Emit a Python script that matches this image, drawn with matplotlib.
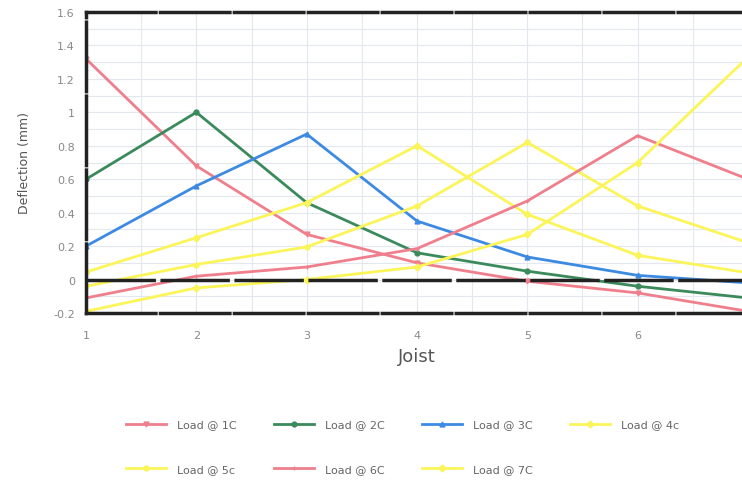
import matplotlib
matplotlib.use('Agg')
import matplotlib.pyplot as plt
from matplotlib.ticker import MultipleLocator, FuncFormatter

joist = [1, 2, 3, 4, 5, 6, 7]
joist_ticks = [1, 2, 3, 4, 5, 6]

load_1c = [1.32, 0.68, 0.27, 0.10, -0.01, -0.08, -0.19]
load_2c = [0.60, 1.00, 0.46, 0.16, 0.05, -0.04, -0.11]
load_3c = [0.20, 0.56, 0.87, 0.35, 0.135, 0.025, -0.02]
load_4c = [0.045, 0.25, 0.46, 0.80, 0.39, 0.145, 0.04]
load_5c = [-0.04, 0.09, 0.195, 0.44, 0.82, 0.44, 0.22]
load_6c = [-0.11, 0.02, 0.075, 0.185, 0.47, 0.86, 0.60]
load_7c = [-0.19, -0.05, 0.0, 0.075, 0.27, 0.70, 1.33]

labels = ['Load @ 1C', 'Load @ 2C', 'Load @ 3C', 'Load @ 4c',
          'Load @ 5c', 'Load @ 6C', 'Load @ 7C']

pink = '#ef7f8c'
green = '#3b8a5c'
blue = '#3d8ae2'
yellow = '#fbf55a'

series = [load_1c, load_2c, load_3c, load_4c, load_5c, load_6c, load_7c]
colors = [pink, green, blue, yellow, yellow, pink, yellow]
markers = ['v', 'o', '^', 'D', 'o', '+', 'D']

fig = plt.figure(figsize=(7.42, 4.85), dpi=100)
ax = fig.add_axes([86 / 742, (485 - 314) / 485, (748 - 86) / 742, 301 / 485])

handles = []
for y, c, m, lab in zip(series, colors, markers, labels):
    h, = ax.plot(joist, y, color=c, lw=2, marker=m, markersize=3.5, label=lab)
    handles.append(h)

ax.set_xlim(1, 7)
ax.set_ylim(-0.2, 1.6)
ax.set_xticks(joist_ticks)
ax.xaxis.set_minor_locator(MultipleLocator(0.5))
ax.yaxis.set_major_locator(MultipleLocator(0.2))
ax.yaxis.set_minor_locator(MultipleLocator(0.1))


def fmt(v, p):
    if abs(v) < 1e-9:
        return '0'
    return ('%.1f' % v).rstrip('0').rstrip('.')


ax.yaxis.set_major_formatter(FuncFormatter(fmt))
ax.grid(which='both', color='#e3e8f0', lw=0.8)
ax.set_axisbelow(True)
ax.tick_params(which='both', length=0, colors='#888888', labelsize=8)
ax.tick_params(axis='x', pad=12)
ax.tick_params(axis='y', pad=8)

for s in ['left', 'top', 'bottom']:
    ax.spines[s].set_linestyle((0, (20, 1.3)))
    ax.spines[s].set_linewidth(2.5)
    ax.spines[s].set_color('#222222')
    ax.spines[s].set_zorder(6)
ax.spines['right'].set_visible(False)
ax.axhline(0, color='#222222', lw=2.5, ls=(0, (20, 1.3)), zorder=5)

ax.set_xlabel('Joist', fontsize=13, color='#555555', labelpad=5)
ax.set_ylabel('Deflection (mm)', fontsize=9, color='#555555', labelpad=16)

# legend is filled column by column, so order for row-major reading
order = [0, 4, 1, 5, 2, 6, 3]
fig.legend([handles[i] for i in order], [labels[i] for i in order],
           loc='center', bbox_to_anchor=(0.543, 0.077), ncol=4, frameon=False,
           fontsize=8, handlelength=3.6, columnspacing=3.35, handletextpad=1.0,
           labelspacing=3.1, labelcolor='#666666')

fig.savefig('out.png', dpi=100)
